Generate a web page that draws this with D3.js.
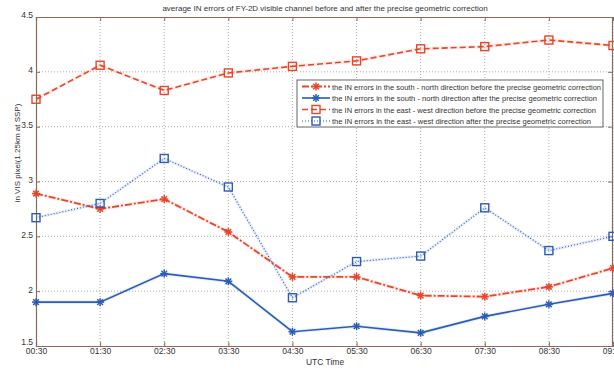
<!DOCTYPE html>
<html><head><meta charset="utf-8">
<script src="https://cdn.jsdelivr.net/npm/d3@7"></script>
<style>body{margin:0;background:#fff;}svg{display:block;}text{font-family:"Liberation Sans",Arial,sans-serif;}</style>
</head><body><svg id="c" width="614" height="369"></svg>
<script>
const categories = ["00:30","01:30","02:30","03:30","04:30","05:30","06:30","07:30","08:30","09:30"];
const snBefore = [2.89,2.75,2.84,2.54,2.13,2.13,1.96,1.95,2.04,2.21];
const snAfter  = [1.90,1.90,2.16,2.09,1.63,1.68,1.62,1.77,1.88,1.98];
const ewBefore = [3.75,4.06,3.83,3.99,4.05,4.10,4.21,4.23,4.29,4.24];
const ewAfter  = [2.67,2.80,3.21,2.95,1.94,2.27,2.32,2.76,2.37,2.50];
const yTicks = [1.5,2,2.5,3,3.5,4,4.5];
const seriesNames = [
 "the IN errors in the south - north direction before the precise geometric correction",
 "the IN errors in the south - north direction after the precise geometric correction",
 "the IN errors in the east - west direction before the precise geometric correction",
 "the IN errors in the east - west direction after the precise geometric correction"];

const svg = d3.select("#c");
const L=36, R=613, T=17, B=346;
const x = d3.scalePoint().domain(categories).range([L,R]);
const y = d3.scaleLinear().domain([1.5,4.5]).range([B,T]);
const axisCol = "#8a6a5c";
const red = "#e8452a", blue = "#2a5cb8";

// grid
const g = svg.append("g");
g.selectAll(".vg").data(categories.slice(1)).enter().append("line")
 .attr("x1",d=>x(d)).attr("x2",d=>x(d)).attr("y1",T).attr("y2",B)
 .attr("stroke","#999").attr("stroke-width",0.8).attr("stroke-dasharray","1,2");
g.selectAll(".hg").data(yTicks.slice(1,-1)).enter().append("line")
 .attr("x1",L).attr("x2",R).attr("y1",d=>y(d)).attr("y2",d=>y(d))
 .attr("stroke","#999").attr("stroke-width",0.8).attr("stroke-dasharray","1,2");

// axes
const xa = svg.append("g").attr("transform",`translate(0,${B})`)
 .call(d3.axisBottom(x).tickSize(-4).tickPadding(3));
const xt = svg.append("g").attr("transform",`translate(0,${T})`)
 .call(d3.axisTop(x).tickSize(-4).tickFormat(""));
const ya = svg.append("g").attr("transform",`translate(${L},0)`)
 .call(d3.axisLeft(y).tickValues(yTicks).tickSize(-4).tickPadding(3).tickFormat(d3.format("")));
const yr = svg.append("g").attr("transform",`translate(${R-1},0)`)
 .call(d3.axisRight(y).tickValues(yTicks).tickSize(-4).tickFormat(""));
[xa,xt,ya,yr].forEach(a=>{
 a.selectAll("path").attr("stroke",axisCol).attr("stroke-width",1.2);
 a.selectAll("line").attr("stroke",axisCol);
 a.selectAll("text").attr("fill","#333").style("font-size","8.5px");
});
ya.selectAll("text").attr("dy","0.1em");
ya.selectAll("text").filter(d=>d===1.5).attr("dy","-0.2em");
xa.selectAll("text").attr("dy","0.6em");

// title & labels
svg.append("text").attr("x",325).attr("y",11).attr("text-anchor","middle")
 .style("font-size","8px").attr("fill","#333")
 .text("average IN errors of FY-2D visible channel before and after the precise geometric correction");
svg.append("text").attr("x",325).attr("y",365).attr("text-anchor","middle")
 .style("font-size","8.5px").attr("fill","#333").text("UTC Time");
svg.append("text").attr("transform","translate(20,153) rotate(-90)").attr("text-anchor","middle")
 .style("font-size","8px").attr("fill","#333").text("in VIS pixel(1.25km at SSP)");

const series = [
 {vals:snBefore, color:red, dash:"7,2,2,2", w:1.8, m:"star"},
 {vals:snAfter, color:blue, dash:null, w:1.6, m:"star"},
 {vals:ewBefore, color:red, dash:"6,3", w:1.6, m:"square"},
 {vals:ewAfter, color:blue, dash:"1,2", w:1.1, m:"square"}];

const line = d3.line().x((d,i)=>x(categories[i])).y(d=>y(d));

function drawMarker(sel, s, cx, cy){
 if(s.m==="square"){
   sel.append("rect").attr("x",cx-4).attr("y",cy-4).attr("width",8).attr("height",8)
    .attr("fill","none").attr("stroke",s.color).attr("stroke-width",1.4);
 } else {
   const r=4;
   for(let k=0;k<4;k++){
     const a=k*Math.PI/4;
     sel.append("line").attr("x1",cx-r*Math.cos(a)).attr("y1",cy-r*Math.sin(a))
      .attr("x2",cx+r*Math.cos(a)).attr("y2",cy+r*Math.sin(a))
      .attr("stroke",s.color).attr("stroke-width",1.5);
   }
 }
}

const plot = svg.append("g");
series.forEach(s=>{
 plot.append("path").datum(s.vals).attr("d",line).attr("fill","none")
  .attr("stroke",s.color).attr("stroke-opacity",0.1).attr("stroke-width",s.w+2);
 plot.append("path").datum(s.vals).attr("d",line).attr("fill","none")
  .attr("stroke",s.color).attr("stroke-width",s.w).attr("stroke-dasharray",s.dash);
 s.vals.forEach((v,i)=>drawMarker(plot,s,x(categories[i]),y(v)));
});

// legend
const lg = svg.append("g");
lg.append("rect").attr("x",297).attr("y",80).attr("width",306).attr("height",47)
 .attr("fill","#fff").attr("stroke","#555").attr("stroke-width",0.9);
series.forEach((s,i)=>{
 const ly = 86.5 + i*11.5;
 lg.append("line").attr("x1",302).attr("x2",330).attr("y1",ly).attr("y2",ly)
  .attr("stroke",s.color).attr("stroke-width",s.w).attr("stroke-dasharray",s.dash);
 drawMarker(lg,s,316,ly);
 const t = lg.append("text").attr("x",332).attr("y",ly+3).style("font-size","8px")
  .attr("fill","#333").text(seriesNames[i]);
 const full = [269,265,264,259][i];
 t.attr("textLength",full).attr("lengthAdjust","spacingAndGlyphs");
});
</script></body></html>
